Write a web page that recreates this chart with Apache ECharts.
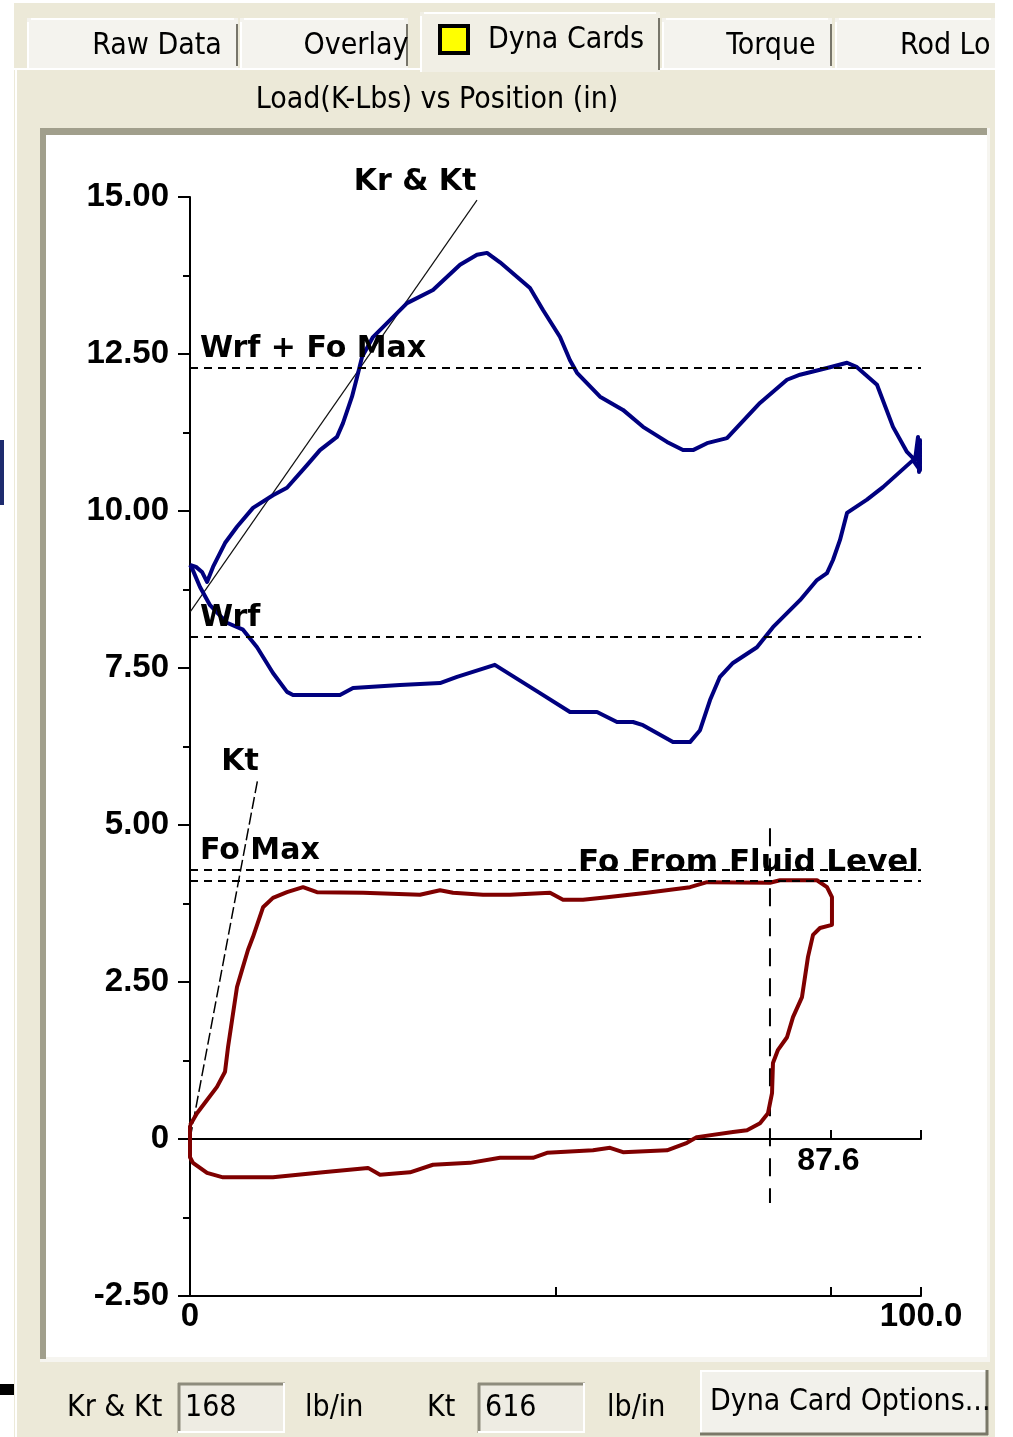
<!DOCTYPE html>
<html><head><meta charset="utf-8">
<script src="https://cdn.jsdelivr.net/npm/echarts@6/dist/echarts.min.js"></script>
<style>html,body{margin:0;padding:0;background:#fff;}#c{width:1013px;height:1437px;}</style>
</head><body><div id="c"></div>
<script>
// ---------- DATA ----------
// Surface card (Load K-Lbs vs Position in), loop in drawing order
const surfaceCard = [
[0,9.14],[0.82,9.11],[1.64,9.03],[2.33,8.87],[3.15,9.11],[4.79,9.49],[6.43,9.75],[8.62,10.05],[11.35,10.25],[13.27,10.37],
[16.01,10.73],[17.78,10.97],[20.11,11.18],[20.93,11.40],[22.16,11.82],[22.85,12.13],[23.53,12.45],[25.03,12.77],[27.36,13.04],[29.69,13.31],
[33.24,13.52],[36.94,13.92],[39.26,14.08],[40.63,14.11],[42.41,13.96],[46.51,13.55],[48.29,13.20],[50.62,12.77],[51.98,12.40],[52.94,12.20],
[56.09,11.82],[59.23,11.61],[61.97,11.34],[65.25,11.10],[67.44,10.97],[68.81,10.97],[70.73,11.08],[73.46,11.16],[77.97,11.72],[81.67,12.09],
[83.45,12.17],[87.55,12.29],[89.88,12.36],[91.24,12.29],[93.98,12.01],[96.17,11.34],[98.08,10.94],[99.18,10.81],[99.59,11.18],[99.73,10.62],
[99.86,11.13],[99.86,10.65],[98.91,10.81],[94.80,10.38],[92.61,10.18],[89.88,9.97],[88.92,9.54],[87.96,9.22],[87.14,9.01],[85.77,8.90],
[83.45,8.58],[79.75,8.15],[77.56,7.83],[74.28,7.58],[72.50,7.36],[71.14,6.99],[69.77,6.51],[68.40,6.32],[66.07,6.32],[61.97,6.59],
[60.60,6.64],[58.41,6.64],[55.68,6.80],[51.98,6.80],[47.88,7.10],[41.70,7.55],[36.53,7.36],[34.20,7.26],[28.73,7.23],[22.30,7.18],
[20.52,7.07],[14.09,7.07],[13.27,7.12],[11.35,7.42],[9.17,7.83],[7.25,8.11],[5.06,8.22],[2.74,8.50],[1.37,8.79],[0.27,9.09],[0,9.14]
];
// Pump (downhole) card
const pumpCard = [
[0,0.22],[0.96,0.41],[2.33,0.62],[3.69,0.83],[4.79,1.07],[5.20,1.46],[5.75,1.89],[6.43,2.42],[7.11,2.69],[7.93,3.01],
[8.62,3.22],[9.99,3.69],[11.35,3.84],[13.27,3.93],[15.46,4.01],[17.37,3.93],[23.67,3.92],[31.46,3.89],[34.20,3.96],[35.98,3.92],
[40.08,3.89],[43.78,3.89],[49.25,3.92],[51.03,3.81],[53.76,3.81],[57.04,3.85],[62.52,3.92],[68.40,4.01],[70.73,4.09],[79.34,4.08],
[80.71,4.12],[85.77,4.12],[87.14,4.01],[87.82,3.85],[87.82,3.41],[86.18,3.36],[85.23,3.25],[84.54,2.90],[83.72,2.26],[82.49,1.94],
[81.67,1.62],[80.44,1.42],[79.75,1.21],[79.62,0.73],[79.07,0.41],[77.98,0.25],[76.20,0.14],[74.28,0.11],[69.36,0.03],[67.99,-0.06],
[65.25,-0.18],[59.23,-0.21],[57.46,-0.14],[55.13,-0.18],[48.84,-0.22],[46.92,-0.30],[42.41,-0.30],[38.30,-0.38],[33.24,-0.41],[30.10,-0.53],
[25.99,-0.57],[24.35,-0.46],[18.19,-0.53],[11.35,-0.61],[4.51,-0.61],[2.33,-0.54],[0.41,-0.38],[0,-0.29],[0,0.22]
];
const refLevels = [12.28, 7.99, 4.28, 4.12];
const refNames = ['Wrf + Fo Max', 'Wrf', 'Fo Max', 'Fo From Fluid Level'];
const krKtLine = [[0, 8.39], [39.26, 14.95]];
const ktLine = [[0, 0], [9.30, 5.75]];
const fluidLevelMarker = [[79.34, 4.95], [79.34, -1.02]];
const netStroke = 87.6;
const xLabelValues = [0, 100];
const xTickValues = [50, 87.6, 100];
const yMin = -2.5, yMax = 15, yStep = 2.5;
const tabNames = ['Raw Data', 'Overlay', 'Dyna Cards', 'Torque', 'Rod Lo'];
const chartTitle = 'Load(K-Lbs) vs Position (in)';
const krKtValue = '168', ktValue = '616', unitText = 'lb/in';
const buttonText = 'Dyna Card Options...';

// ---------- STYLE ----------
const numFont = "'Liberation Sans', Arial, sans-serif";
const lblFont = "'DejaVu Sans', sans-serif";
const uiFont = "'DejaVu Sans Condensed', 'Liberation Sans Narrow', 'DejaVu Sans', sans-serif";
const beige = '#ECE9D8';
const dark = '#A19F8C';

function uiText(x, y, t, opt) {
  return Object.assign({type:'text', x:x, y:y, z:10, silent:true,
    style:{text:t, font:"30px " + uiFont, fill:'#000', verticalAlign:'middle', align:'left'}}, opt || {});
}
function rect(x, y, w, h, fill, z, stroke, lw) {
  return {type:'rect', z:(z==null?-5:z), silent:true, shape:{x:x, y:y, width:w, height:h},
    style:{fill:fill, stroke:stroke || null, lineWidth:lw || 0}};
}
function line(x1, y1, x2, y2, color, w, z) {
  return {type:'line', z:(z==null?-4:z), silent:true, shape:{x1:x1, y1:y1, x2:x2, y2:y2},
    style:{stroke:color, lineWidth:w}};
}

const tabGeom = [[27,238,157],[240,408,356],[420,660,564],[662,832,771],[835,995,947]];
const chrome = [];
chrome.push(rect(14, 3, 981, 1434, beige, -20));
// tabs
tabGeom.forEach((g, i) => {
  const sel = i === 2;
  const top = sel ? 12 : 18;
  chrome.push(rect(g[0], top, g[1]-g[0], (sel ? 72 : 68) - top, sel ? '#F1EFE5' : '#F4F3EE', -15));
  chrome.push(line(g[0]+1, top+4, g[0]+1, sel ? 72 : 68, '#FFFFFF', 2, -14));
  chrome.push(line(g[0]+4, top+1, g[1]-4, top+1, '#FFFFFF', 2, -14));
  if (i < 4) chrome.push(line(g[1]-1, top+6, g[1]-1, sel ? 70 : 66, '#77756A', 2, -14));
  if (sel) {
    chrome.push(rect(440, 26, 28, 27, '#FFFF00', 10, '#000', 4));
    chrome.push(uiText(488, 40, tabNames[i]));
  } else {
    chrome.push(uiText(i === 4 ? 900 : g[2], 46, tabNames[i], {style:{text:tabNames[i], font:"30px " + uiFont, fill:'#000', verticalAlign:'middle', align:i === 4 ? 'left' : 'center'}}));
  }
});
chrome.push(line(14, 69, 420, 69, '#FFFFFF', 2, -13));
chrome.push(line(660, 69, 995, 69, '#FFFFFF', 2, -13));
chrome.push(line(16, 69, 16, 1437, '#FFFFFF', 2, -13));
chrome.push(uiText(437, 100, chartTitle, {style:{text:chartTitle, font:"30px " + uiFont, fill:'#000', verticalAlign:'middle', align:'center'}}));
// sunken panel
chrome.push(rect(40, 128, 950, 1234, '#F6F5F0', -12));
chrome.push(rect(40, 128, 947, 7, dark, -11));
chrome.push(rect(40, 128, 6, 1231, dark, -11));
chrome.push(rect(46, 135, 941, 1222, '#FFFFFF', -10));
// bottom controls
chrome.push(uiText(67, 1408, 'Kr & Kt'));
function textBox(x, w, val) {
  chrome.push(rect(x, 1383, w, 50, '#EEECE3', -9));
  chrome.push(line(x, 1384, x + w, 1384, '#8E8C7D', 3, -8));
  chrome.push(line(x + 1, 1383, x + 1, 1433, '#8E8C7D', 3, -8));
  chrome.push(line(x, 1432, x + w, 1432, '#FFFFFF', 2, -8));
  chrome.push(line(x + w - 1, 1383, x + w - 1, 1433, '#FFFFFF', 2, -8));
  chrome.push(uiText(x + 7, 1408, val));
}
textBox(178, 107, krKtValue);
chrome.push(uiText(305, 1408, unitText));
chrome.push(uiText(427, 1408, 'Kt'));
textBox(478, 107, ktValue);
chrome.push(uiText(607, 1408, unitText));
chrome.push(rect(700, 1370, 288, 65, '#F2F1EB', -9));
chrome.push(line(700, 1371, 988, 1371, '#FFFFFF', 2, -8));
chrome.push(line(701, 1370, 701, 1435, '#FFFFFF', 2, -8));
chrome.push(line(700, 1434, 988, 1434, '#7A7868', 3, -8));
chrome.push(line(987, 1370, 987, 1435, '#7A7868', 3, -8));
chrome.push(uiText(710, 1402, buttonText));
// white margin right of the window, edge artifacts
chrome.push(rect(995, 0, 18, 1437, '#FFFFFF', -19));
chrome.push(rect(0, 440, 4, 65, '#1E2B6E', -19));
chrome.push(rect(0, 1384, 14, 11, '#000000', -19));

// ---------- CHART ----------
const chart = echarts.init(document.getElementById('c'), null, {renderer:'canvas', width:1013, height:1437});
const axisNum = {fontFamily:numFont, fontWeight:'bold', fontSize:33, color:'#000'};
const blackLine = {color:'#000', width:2};
const annot = {fontFamily:lblFont, fontWeight:'bold', fontSize:30, color:'#000'};

const option = {
  animation:false,
  backgroundColor:'#FFFFFF',
  tooltip:{show:false},
  grid:{left:190, right:92, top:197, bottom:141},
  graphic:{elements:chrome},
  xAxis:[
    {type:'value', min:0, max:100, position:'bottom',
     axisLine:{show:true, onZero:false, lineStyle:blackLine},
     axisTick:{show:true, inside:true, length:9, customValues:xTickValues, lineStyle:blackLine},
     axisLabel:Object.assign({show:true, customValues:xLabelValues, margin:4,
       formatter:(v)=> v === 0 ? '0' : v.toFixed(1)}, axisNum),
     splitLine:{show:false}},
    {type:'value', min:0, max:100, position:'bottom',
     axisLine:{show:true, onZero:true, lineStyle:blackLine},
     axisTick:{show:true, inside:true, length:9, customValues:[netStroke, 100], lineStyle:blackLine},
     axisLabel:{show:false},
     splitLine:{show:false}}
  ],
  yAxis:{type:'value', min:yMin, max:yMax, interval:yStep,
    axisLine:{show:true, onZero:false, lineStyle:blackLine},
    axisTick:{show:true, length:12, lineStyle:blackLine},
    minorTick:{show:true, splitNumber:2, length:7, lineStyle:blackLine},
    axisLabel:Object.assign({margin:21, formatter:(v)=> v === 0 ? '0' : v.toFixed(2)}, axisNum),
    splitLine:{show:false}},
  series:[
    {name:'refs', type:'line', data:ktLine, showSymbol:false, symbol:'none',
     lineStyle:{color:'#000', width:1.5, type:[12,4]}, emphasis:{disabled:true}, z:3,
     markLine:{silent:true, symbol:['none','none'], animation:false,
       lineStyle:{color:'#000', width:2, type:[8,6]},
       data: refLevels.map((v, i) => ({yAxis:v, name:refNames[i],
         label:Object.assign({show:true, formatter:refNames[i], position: i === 3 ? 'insideEndTop' : 'insideStartTop',
           distance:[ i === 3 ? 2 : 10, i === 3 ? 2 : 4]}, annot, i === 3 ? {fontSize:31} : {})}))}},
    {name:'Kt label', type:'line', z:3, symbol:'circle', symbolSize:0.01, showSymbol:true,
     lineStyle:{width:0, opacity:0}, emphasis:{disabled:true},
     data:[ktLine[0], {value:ktLine[1], label:Object.assign({show:true, formatter:'Kt', position:'top', offset:[-18, 4]}, annot)}]},
    {name:'Kr & Kt', type:'line', z:3, symbol:'circle', symbolSize:0.01, showSymbol:true,
     lineStyle:{color:'#111', width:1.2}, emphasis:{disabled:true},
     data:[krKtLine[0], {value:krKtLine[1], label:Object.assign({show:true, formatter:'Kr & Kt', position:'top', offset:[-62, 2]}, annot)}]},
    {name:'Net stroke', type:'scatter', z:3, symbolSize:0.01, silent:true, emphasis:{disabled:true},
     itemStyle:{opacity:1, color:'#000'},
     data:[[netStroke, 0]],
     label:{show:true, position:'bottom', distance:6, offset:[-2, 0], formatter:(p)=> p.value[0].toFixed(1),
       fontFamily:numFont, fontWeight:'bold', fontSize:32, color:'#000', opacity:1, textBorderWidth:0}},
    {name:'Fluid level', type:'line', z:3, showSymbol:false, symbol:'none', data:fluidLevelMarker,
     lineStyle:{color:'#000', width:2, type:[18,12]}, emphasis:{disabled:true}},
    {name:'Surface', type:'line', z:4, showSymbol:false, symbol:'none', data:surfaceCard,
     lineStyle:{color:'#00007F', width:4, join:'round'}, emphasis:{disabled:true}},
    {name:'Pump', type:'line', z:4, showSymbol:false, symbol:'none', data:pumpCard,
     lineStyle:{color:'#7F0000', width:4, join:'round'}, emphasis:{disabled:true}}
  ]
};
chart.setOption(option);
</script>
</body></html>
